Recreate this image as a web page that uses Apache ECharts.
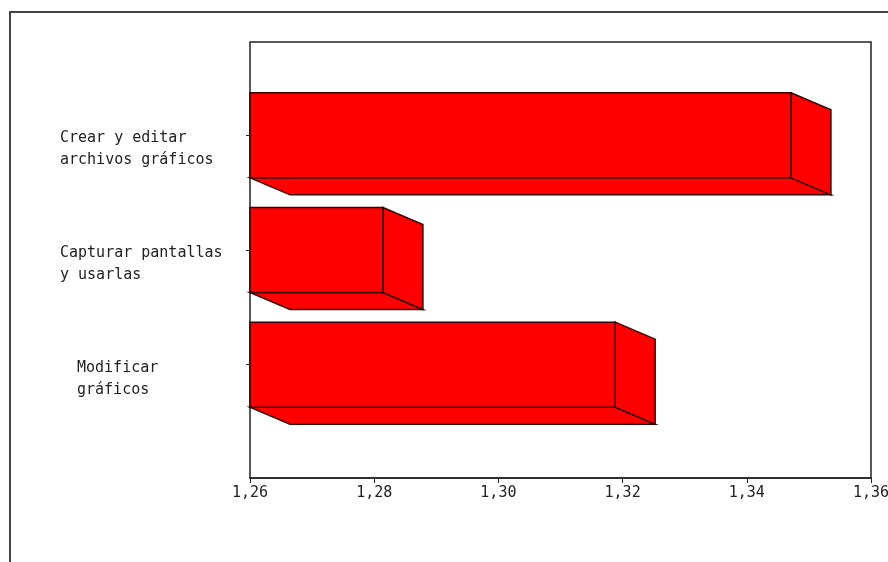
<!DOCTYPE html>
<html><head><meta charset="utf-8">
<script src="https://cdn.jsdelivr.net/npm/echarts@6/dist/echarts.min.js"></script>
<style>html,body{margin:0;padding:0;background:#fff}#c{width:888px;height:562px}</style>
</head><body><div id="c"></div>
<script>
// ---- data ----
const categories = ['Crear y editar\narchivos gráficos', 'Capturar pantallas\ny usarlas', 'Modificar\ngráficos'];
const values = [1.3471, 1.2814, 1.3188];
const tickLabels = ['1,26', '1,28', '1,30', '1,32', '1,34', '1,36'];
const axisMin = 1.26, axisMax = 1.36, axisStep = 0.02;

// ---- chart ----
const chart = echarts.init(document.getElementById('c'), null, {renderer: 'canvas'});
const FONT = 'DejaVu Sans Mono';
const dx = 40, dy = 17;

function renderItem(params, api) {
  const ci = api.value(0), v = api.value(1);
  const end = api.coord([v, ci]);
  const start = api.coord([axisMin, ci]);
  const band = api.size([0, 1])[1];
  const h = band * 0.742;
  const x0 = start[0], x1 = end[0], y0 = end[1] - h / 2, y1 = end[1] + h / 2;
  const st = {fill: '#ff0000', stroke: '#3a0000', lineWidth: 1.5};
  return {type: 'group', children: [
    {type: 'polygon', shape: {points: [[x0, y1], [x1, y1], [x1 + dx, y1 + dy], [x0 + dx, y1 + dy]]}, style: st},
    {type: 'polygon', shape: {points: [[x1, y0], [x1 + dx, y0 + dy], [x1 + dx, y1 + dy], [x1, y1]]}, style: st},
    {type: 'rect', shape: {x: x0, y: y0, width: x1 - x0, height: h}, style: st}
  ]};
}

chart.setOption({
  animation: false,
  backgroundColor: '#fff',
  graphic: [{
    type: 'rect', shape: {x: 10, y: 12, width: 900, height: 600},
    style: {fill: 'none', stroke: '#444', lineWidth: 2}, z: -1
  }],
  grid: [
    {left: 250, right: 17, top: 42, bottom: 84, show: true, borderColor: '#222', borderWidth: 1.5, backgroundColor: '#fff', containLabel: false, outerBoundsMode: 'none'},
    {left: 250, right: 17, top: 78, bottom: 140, containLabel: false, outerBoundsMode: 'none'}
  ],
  xAxis: [
    {gridIndex: 0, type: 'value', min: axisMin, max: axisMax, interval: axisStep,
     axisLine: {show: true, lineStyle: {color: '#222', width: 1.5}},
     axisTick: {show: true, length: 5, lineStyle: {color: '#222'}},
     splitLine: {show: false},
     axisLabel: {margin: 8, fontFamily: FONT, fontSize: 15, color: '#222',
       formatter: (val) => tickLabels[Math.round((val - axisMin) / axisStep)] || ''}},
    {gridIndex: 1, type: 'value', min: axisMin, max: axisMax, show: false}
  ],
  yAxis: [
    {gridIndex: 0, type: 'value', show: false},
    {gridIndex: 1, type: 'category', inverse: true, data: categories,
     axisLine: {show: false},
     axisTick: {show: true, alignWithLabel: true, length: 4, lineStyle: {color: '#222'}},
     axisLabel: {align: 'left', verticalAlign: 'middle', margin: 190, padding: [28, 0, 0, 0],
       fontFamily: FONT, fontSize: 15, color: '#222', lineHeight: 22,
       formatter: (val, i) => {
         const tag = i === 2 ? 'm' : 't';
         return val.split('\n').map(s => '{' + tag + '|' + s + '}').join('\n');
       },
       rich: {
         t: {fontFamily: FONT, fontSize: 15, color: '#222', lineHeight: 22},
         m: {fontFamily: FONT, fontSize: 15, color: '#222', lineHeight: 22, padding: [0, 0, 0, 17]}
       }}}
  ],
  series: [{
    type: 'custom', xAxisIndex: 1, yAxisIndex: 1,
    renderItem: renderItem, clip: false,
    encode: {x: 1, y: 0},
    data: values.map((v, i) => [i, v])
  }]
});
</script></body></html>
